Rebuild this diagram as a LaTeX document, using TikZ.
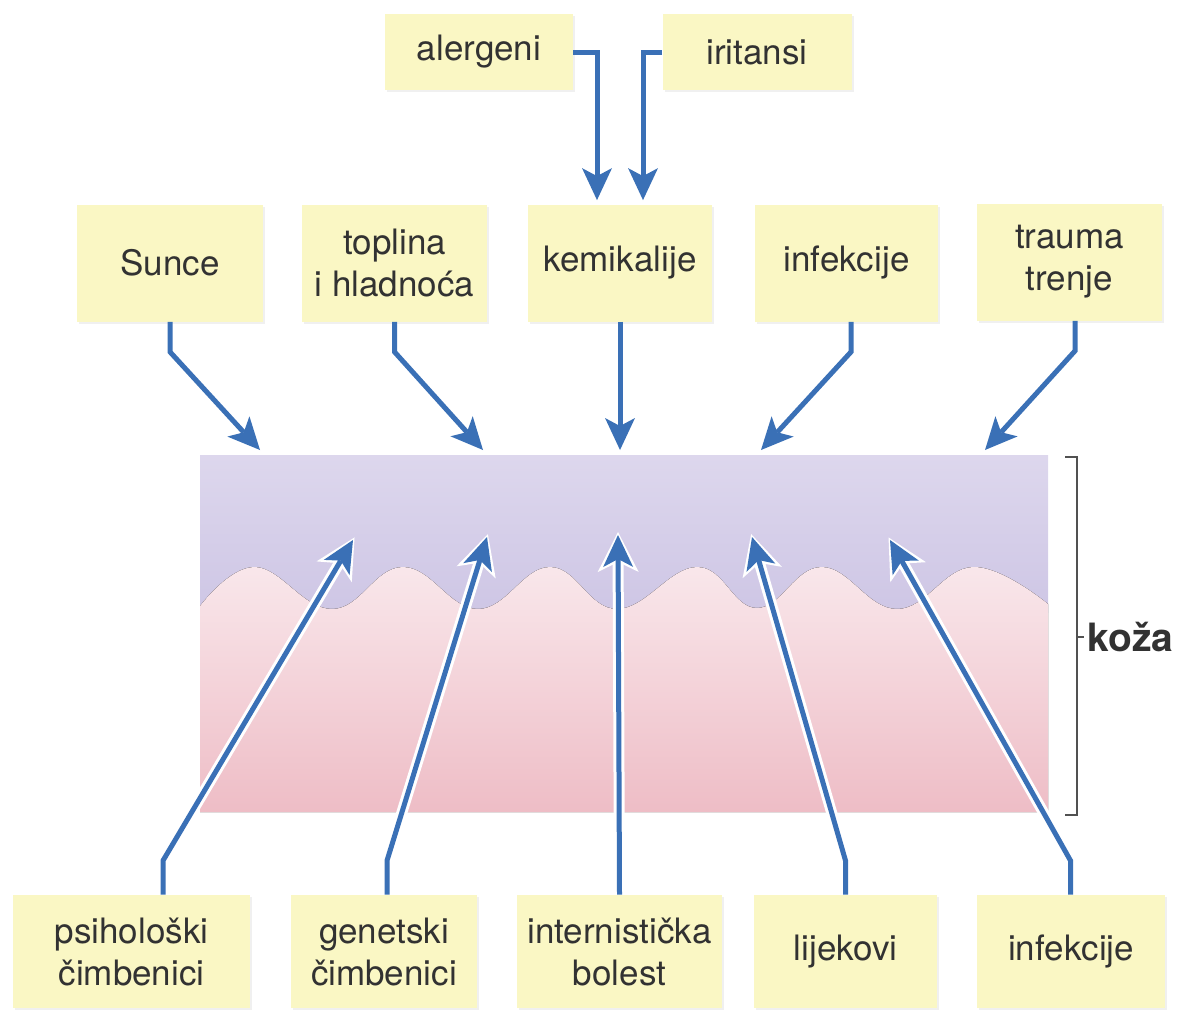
\documentclass[tikz,border=0pt]{standalone}
\usepackage{fontspec}
\setmainfont{TeX Gyre Heros}
\usetikzlibrary{arrows.meta,shadows}
\definecolor{boxyellow}{RGB}{250,247,196}
\definecolor{arrowblue}{RGB}{58,112,182}
\definecolor{textgray}{RGB}{50,50,50}
\definecolor{lavtop}{RGB}{221,215,237}
\definecolor{lavbot}{RGB}{206,198,229}
\definecolor{pinktop}{RGB}{249,231,235}
\definecolor{pinkbot}{RGB}{238,189,198}

\begin{document}
\begin{tikzpicture}[x=0.5pt,y=-0.5pt,
		cause box/.style={rectangle,fill=boxyellow,text=textgray,align=center,inner sep=0pt,
			font=\fontsize{17.5}{21}\selectfont,
			drop shadow={shadow xshift=1.2pt,shadow yshift=-1.2pt,opacity=0.12}},
		cause arrow/.style={draw=arrowblue,line width=2.5pt,line join=miter,
			-{Stealth[length=16pt,width=15pt,inset=4pt,line width=0pt]}},
		halo/.style={draw=white,line width=5.5pt,shorten >=-1.5pt,
			-{Stealth[length=20pt,width=20.5pt,inset=5pt,line width=0pt]}},
		bracket/.style={draw=textgray!85,line width=1pt}]

		\useasboundingbox (0,0) rectangle (1181,1017);

		% skin
		\fill[top color=lavtop,bottom color=lavbot] (200,455) rectangle (1048,612);
		\fill[top color=pinktop,bottom color=pinkbot]
			plot[smooth,tension=0.7] coordinates {(200,606) (255,567) (332,609) (403,567) (478,609)
				(550,567) (617,609) (697,567) (757,608) (822,567) (897,609) (973,567) (1048,604)}
			-- (1048,812) -- (200,812) -- cycle;

		\draw[bracket] (1065,457) -- (1077,457) -- (1077,815) -- (1065,815);
		\node[anchor=west,inner sep=0pt,text=textgray,font=\fontsize{19.5}{22}\selectfont\bfseries] (koza) at (1087,637) {koža};
		\draw[bracket] (1077,637) -- ([xshift=-1.5pt]koza.west);

		% outer causes
		\node[cause box,minimum width=94pt,minimum height=38pt] (alergeni) at (479,52) {alergeni};
		\node[cause box,minimum width=94.5pt,minimum height=38pt] (iritansi) at (757,52) {iritansi};

		\node[cause box,minimum width=93pt,minimum height=58.5pt] (sunce) at (170,263) {Sunce};
		\node[cause box,minimum width=92.5pt,minimum height=58.5pt] (toplina) at (394.5,263) {toplina\\i hladnoća};
		\node[cause box,minimum width=92pt,minimum height=58.5pt] (kemikalije) at (620,263) {kemikalije};
		\node[cause box,minimum width=91.5pt,minimum height=58.5pt] (infekcije) at (846.5,263) {infekcije};
		\node[cause box,minimum width=92.5pt,minimum height=58.5pt] (trauma) at (1069.5,262) {trauma\\trenje};

		% inner causes
		\node[cause box,minimum width=118.5pt,minimum height=56.5pt] (psih) at (131.5,951.5) {psihološki\\čimbenici};
		\node[cause box,minimum width=93pt,minimum height=56.5pt] (genet) at (384,951.5) {genetski\\čimbenici};
		\node[cause box,minimum width=102.5pt,minimum height=56.5pt] (intern) at (619.5,951.5) {internistička\\bolest};
		\node[cause box,minimum width=91.5pt,minimum height=56.5pt] (lijek) at (845.5,951.5) {lijekovi};
		\node[cause box,minimum width=94pt,minimum height=56.5pt] (infek) at (1071,951.5) {infekcije};

		% arrow tips on the skin
		\coordinate (s1) at (260,450);
		\coordinate (s2) at (483,450);
		\coordinate (s3) at (620,450);
		\coordinate (s4) at (761,450);
		\coordinate (s5) at (985,450);
		\coordinate (u1) at (353,540);
		\coordinate (u2) at (487,537);
		\coordinate (u3) at (618,535);
		\coordinate (u4) at (752,537);
		\coordinate (u5) at (890,540);

		\draw[cause arrow,shorten >=2pt] (alergeni.east) -| ([xshift=-11.5pt]kemikalije.north);
		\draw[cause arrow,shorten >=2pt] (iritansi.west) -| ([xshift=11.5pt]kemikalije.north);

		\draw[cause arrow] (sunce.south) -- ++(0,30) -- (s1);
		\draw[cause arrow] (toplina.south) -- ++(0,30) -- (s2);
		\draw[cause arrow] (kemikalije.south) -- (s3);
		\draw[cause arrow] ([xshift=2.25pt]infekcije.south) -- ++(0,30) -- (s4);
		\draw[cause arrow] ([xshift=2.75pt]trauma.south) -- ++(0,30) -- (s5);

		\draw[halo] ([xshift=15.75pt]psih.north) -- ++(0,-34) -- (u1);
		\draw[cause arrow] ([xshift=15.75pt]psih.north) -- ++(0,-34) -- (u1);
		\draw[halo] ([xshift=1.5pt]genet.north) -- ++(0,-34) -- (u2);
		\draw[cause arrow] ([xshift=1.5pt]genet.north) -- ++(0,-34) -- (u2);
		\draw[halo] (intern.north) -- (u3);
		\draw[cause arrow] (intern.north) -- (u3);
		\draw[halo] (lijek.north) -- ++(0,-34) -- (u4);
		\draw[cause arrow] (lijek.north) -- ++(0,-34) -- (u4);
		\draw[halo] ([xshift=-0.25pt]infek.north) -- ++(0,-34) -- (u5);
		\draw[cause arrow] ([xshift=-0.25pt]infek.north) -- ++(0,-34) -- (u5);
\end{tikzpicture}
\end{document}
